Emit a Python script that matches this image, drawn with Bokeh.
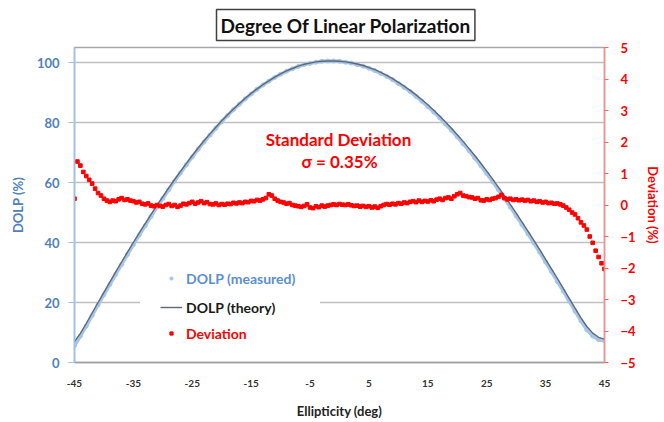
from bokeh.plotting import figure
from bokeh.models import Range1d, LinearAxis, FixedTicker, Legend, LegendItem, Label, Title
from bokeh.embed import file_html
from bokeh.resources import INLINE

# ---------------- data ----------------
ellipticity = list(range(-45, 46))  # deg, 1 deg steps

dolp_measured = [
    5.6, 8.8, 12.2, 15.7, 19.2, 22.6, 26.0, 29.4, 32.7, 36.0,
    39.3, 42.5, 45.6, 48.7, 51.8, 54.7, 57.6, 60.5, 63.2, 65.9,
    68.5, 71.1, 73.5, 75.8, 78.1, 80.3, 82.3, 84.3, 86.1, 87.9,
    89.5, 91.1, 92.5, 93.8, 95.0, 96.1, 97.1, 97.9, 98.7, 99.3,
    99.7, 100.1, 100.4, 100.5, 100.5,
    100.4, 100.1, 99.8, 99.3, 98.8, 98.1, 97.3, 96.4, 95.4, 94.3,
    93.0, 91.7, 90.3, 88.7, 87.1, 85.3, 83.5, 81.6, 79.5, 77.4,
    75.2, 72.9, 70.6, 68.1, 65.6, 63.0, 60.3, 57.5, 54.7, 51.8,
    48.9, 45.9, 42.9, 39.8, 36.7, 33.5, 30.3, 27.0, 23.8, 20.5,
    17.1, 13.9, 10.9, 8.8, 7.6, 7.2,
]

dolp_theory = [
    7.0, 9.7, 13.0, 16.5, 20.0, 23.4, 26.8, 30.2, 33.5, 36.8,
    40.0, 43.2, 46.3, 49.4, 52.4, 55.3, 58.2, 61.0, 63.7, 66.4,
    69.0, 71.5, 73.9, 76.2, 78.4, 80.6, 82.6, 84.5, 86.3, 88.1,
    89.7, 91.2, 92.6, 93.9, 95.1, 96.2, 97.2, 98.0, 98.8, 99.4,
    99.8, 100.2, 100.4, 100.5, 100.5,
    100.4, 100.2, 99.9, 99.5, 99.0, 98.3, 97.6, 96.7, 95.7, 94.6,
    93.4, 92.1, 90.7, 89.2, 87.6, 85.9, 84.1, 82.2, 80.2, 78.1,
    75.9, 73.7, 71.3, 68.9, 66.4, 63.8, 61.1, 58.4, 55.6, 52.7,
    49.8, 46.8, 43.8, 40.7, 37.6, 34.4, 31.2, 28.0, 24.7, 21.4,
    18.1, 14.9, 12.0, 9.8, 8.4, 7.8,
]

dev_start = -45.0
dev_step = 0.5
deviation = [
    0.20, 1.38, 1.25, 1.05, 0.92, 0.80, 0.68, 0.52, 0.38, 0.30,
    0.20, 0.14, 0.10, 0.14, 0.12, 0.18, 0.22, 0.16, 0.18, 0.14,
    0.12, 0.08, 0.10, 0.04, 0.02, 0.05, -0.02, -0.04, 0.00, -0.03,
    -0.05, 0.00, 0.03, -0.03, 0.00, -0.06, -0.02, 0.04, 0.02, 0.06,
    0.10, 0.04, 0.08, 0.12, 0.06, 0.09, 0.03, 0.02, 0.05, 0.00,
    0.03, 0.01, 0.04, 0.03, 0.07, 0.05, 0.08, 0.06, 0.10, 0.09,
    0.13, 0.12, 0.16, 0.14, 0.18, 0.22, 0.34, 0.30, 0.20, 0.14,
    0.10, 0.08, 0.04, 0.06, 0.00, -0.02, -0.04, -0.06, -0.03, 0.02,
    -0.08, -0.10, -0.04, -0.07, -0.02, -0.05, -0.02, 0.00, 0.02, 0.00,
    0.03, 0.01, 0.00, 0.02, -0.01, -0.03, -0.02, -0.05, -0.03, -0.06,
    -0.04, -0.08, -0.05, -0.09, -0.04, 0.00, 0.03, 0.01, 0.04, 0.02,
    0.06, 0.04, 0.08, 0.06, 0.10, 0.12, 0.09, 0.14, 0.10, 0.13,
    0.11, 0.15, 0.12, 0.17, 0.20, 0.16, 0.22, 0.24, 0.20, 0.28,
    0.34, 0.38, 0.30, 0.28, 0.25, 0.24, 0.20, 0.22, 0.15, 0.14,
    0.18, 0.16, 0.20, 0.22, 0.26, 0.32, 0.22, 0.18, 0.20, 0.16,
    0.18, 0.15, 0.17, 0.14, 0.16, 0.12, 0.14, 0.10, 0.12, 0.08,
    0.10, 0.06, 0.07, 0.04, 0.05, 0.02, -0.02, -0.08, -0.15, -0.24,
    -0.30, -0.42, -0.55, -0.65, -0.78, -1.00, -1.20, -1.45, -1.65, -1.85,
    -2.03,
]
dev_x = [dev_start + dev_step * i for i in range(len(deviation))]

x_ticks = [-45, -35, -25, -15, -5, 5, 15, 25, 35, 45]
x_tick_labels = ["-45", "-35", "-25", "-15", "-5", "5", "15", "25", "35", "45"]
dolp_ticks = [0, 20, 40, 60, 80, 100]
dev_ticks = [-5, -4, -3, -2, -1, 0, 1, 2, 3, 4, 5]

title_text = "Degree Of Linear Polarization"
sd_title = "Standard Deviation"
sd_value = "\u03c3 = 0.35%"

# ---------------- styles ----------------
FONT = "Lato"
BLUE_TXT = "#4F81BD"
BLUE_LINE = "#9DC3E6"
MEAS = "#A7C5E8"
THEORY = "#5C6A79"
RED = "#FF0000"
GRID = "#C0C0C0"

p = figure(width=664, height=422, output_backend="svg", toolbar_location=None,
           x_range=Range1d(-45, 45), y_range=Range1d(0, 105),
           min_border_left=74, min_border_right=60, min_border_top=47, min_border_bottom=60)
p.extra_y_ranges = {"dev": Range1d(-5, 5)}
p.background_fill_color = "white"
p.border_fill_color = "white"
p.outline_line_color = "#A6A6A6"
p.outline_line_width = 1.5

p.title = Title(text=title_text, align="left", offset=142, standoff=14,
                text_font=FONT, text_font_size="19px", text_font_style="bold",
                text_color="#111111", border_line_color="#404040", border_line_width=1.5,
                background_fill_color="white", padding=4)

p.xgrid.visible = False
p.ygrid.ticker = FixedTicker(ticks=dolp_ticks)
p.ygrid.grid_line_color = GRID
p.ygrid.grid_line_width = 1.5

# left axis
ax = p.yaxis[0]
ax.ticker = FixedTicker(ticks=dolp_ticks)
ax.axis_label = "DOLP (%)"
ax.axis_line_color = BLUE_LINE
ax.axis_line_width = 1.5
ax.major_tick_line_color = BLUE_LINE
ax.major_tick_out = 6
ax.major_tick_in = 0
ax.minor_tick_line_color = None
ax.major_label_text_color = BLUE_TXT
ax.major_label_text_font = FONT
ax.major_label_text_font_style = "bold"
ax.major_label_text_font_size = "13px"
ax.major_label_standoff = 9
ax.axis_label_text_color = BLUE_TXT
ax.axis_label_text_font = FONT
ax.axis_label_text_font_style = "bold"
ax.axis_label_text_font_size = "13px"
ax.axis_label_standoff = 8

# bottom axis
bx = p.xaxis[0]
bx.ticker = FixedTicker(ticks=x_ticks)
bx.major_label_overrides = dict(zip(x_ticks, x_tick_labels))
bx.axis_label = "Ellipticity (deg)"
bx.axis_line_color = "#A0A0A0"
bx.axis_line_width = 1.5
bx.major_tick_line_color = None
bx.minor_tick_line_color = None
bx.major_tick_out = 0
bx.major_tick_in = 0
bx.major_label_standoff = 17
bx.major_label_text_color = "#333333"
bx.major_label_text_font = FONT
bx.major_label_text_font_style = "bold"
bx.major_label_text_font_size = "10px"
bx.axis_label_text_color = "#222222"
bx.axis_label_text_font = FONT
bx.axis_label_text_font_style = "bold"
bx.axis_label_text_font_size = "13px"
bx.axis_label_standoff = 13

# right axis
rax = LinearAxis(y_range_name="dev", ticker=FixedTicker(ticks=dev_ticks),
                 axis_label="Deviation (%)")
rax.axis_line_color = "#FF8C8C"
rax.axis_line_width = 1.5
rax.major_tick_line_color = "#FF6060"
rax.major_tick_out = 4
rax.major_tick_in = 0
rax.minor_tick_line_color = None
rax.major_label_text_color = RED
rax.major_label_text_font = FONT
rax.major_label_text_font_style = "bold"
rax.major_label_text_font_size = "13px"
rax.major_label_standoff = 12
rax.axis_label_text_color = RED
rax.axis_label_text_font = FONT
rax.axis_label_text_font_style = "bold"
rax.axis_label_text_font_size = "13px"
rax.axis_label_standoff = 6
p.add_layout(rax, "right")

# ---------------- glyphs ----------------
p.line(ellipticity, dolp_measured, line_color=MEAS, line_width=3.5)
r_meas = p.scatter(ellipticity, dolp_measured, size=4, color=MEAS)
r_theory = p.line(ellipticity, dolp_theory, line_color=THEORY, line_width=1.4)
r_dev = p.scatter(dev_x, deviation, y_range_name="dev", marker="square",
                  size=3.6, color=RED)

# ---------------- legends ----------------
def make_legend(label, renderer, color, loc, padding, bg_alpha, glyph_h, label_w=None):
    lg = Legend(items=[LegendItem(label=label, renderers=[renderer])], location=loc,
                padding=padding, spacing=0, margin=0,
                border_line_color="white", border_line_alpha=0.0,
                background_fill_color="white", background_fill_alpha=bg_alpha,
                glyph_width=22, glyph_height=glyph_h, label_height=20, label_standoff=4,
                label_text_color=color, label_text_font=FONT,
                label_text_font_style="bold", label_text_font_size="14px")
    if label_w is not None:
        lg.label_width = label_w
    return lg

lg_theory = make_legend("DOLP (theory)", r_theory, "#1A1A1A", (66, 25), 20, 1.0, 20, 114)
lg_meas = make_legend("DOLP (measured)", r_meas, "#5B8FD0", (84, 72), 2, 0.0, 8)
lg_dev = make_legend("Deviation", r_dev, RED, (84, 17), 2, 0.0, 8)
p.add_layout(lg_theory, "center")
p.add_layout(lg_meas, "center")
p.add_layout(lg_dev, "center")

# ---------------- texts ----------------
p.add_layout(Label(x=264, y=223, x_units="screen", y_units="screen", text=sd_title,
                   text_align="center", text_baseline="middle", text_font=FONT,
                   text_font_size="17px", text_font_style="bold", text_color=RED))
p.add_layout(Label(x=265, y=201, x_units="screen", y_units="screen", text=sd_value,
                   text_align="center", text_baseline="middle", text_font=FONT,
                   text_font_size="17px", text_font_style="bold", text_color=RED))

open("out.html", "w").write(file_html(p, INLINE))
